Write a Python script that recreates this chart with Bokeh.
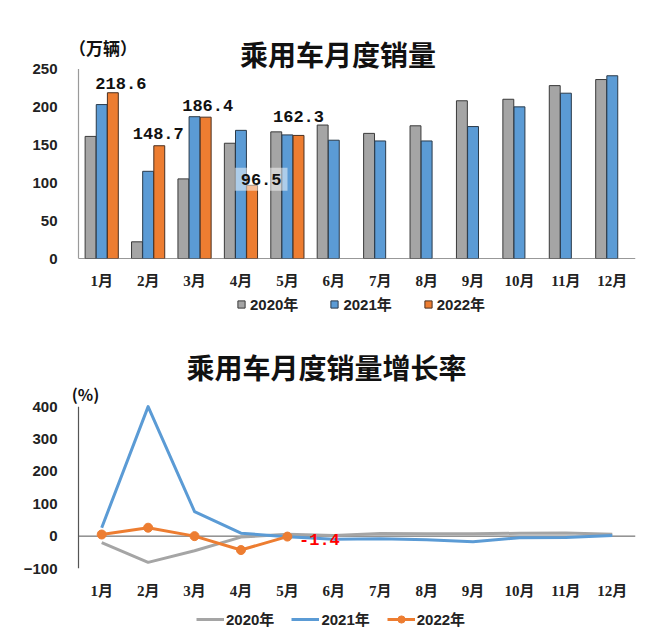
from bokeh.plotting import figure
from bokeh.models import Label, Legend, LegendItem, FixedTicker
from bokeh.transform import dodge
from bokeh.layouts import column
from bokeh.embed import file_html
from bokeh.resources import INLINE

# ---------------- data ----------------
months = ["1月", "2月", "3月", "4月", "5月", "6月", "7月", "8月", "9月", "10月", "11月", "12月"]
month_idx = list(range(1, 13))
series_names = ["2020年", "2021年", "2022年"]

sales_2020 = [161, 22, 105, 152, 167, 176, 165, 175, 208, 210, 228, 236]
sales_2021 = [203, 115, 187, 169, 163, 156, 155, 155, 174, 200, 218, 241]
sales_2022 = [218.6, 148.7, 186.4, 96.5, 162.3]
sales_labels_2022 = ["218.6", "148.7", "186.4", "96.5", "162.3"]

growth_2020 = [-20, -81, -45, -3, 6, 2, 8, 7, 7, 9, 10, 6]
growth_2021 = [26, 400, 76, 9, -2, -10, -8, -11, -17, -5, -4, 2]
growth_2022 = [5, 26, 0, -43, -1.4]
growth_label_may_2022 = "-1.4"

sales_ticks = [0, 50, 100, 150, 200, 250]
growth_ticks = [-100, 0, 100, 200, 300, 400]
sales_axis = (0, 250)
growth_axis = (-100, 400)

# ---------------- style ----------------
GRAY = "#A5A5A5"
BLUE = "#5B9BD5"
ORANGE = "#ED7D31"
CJK = "'Noto Sans CJK SC'"
SERIF_CJK = "'Liberation Serif', 'Noto Sans CJK SC'"
SANS_CJK = "'Liberation Sans', 'Noto Sans CJK SC'"
MONO = "'Liberation Mono'"
BAR_OFF = 0.24
BAR_W = 0.235
X0 = 0.5 - 9 / 46.4          # frame starts a little left of the first category
FIG_W = 650
NAN = [float("nan")]          # legend-only swatches draw nothing in the plot
# per-label pixel nudges (x, y) for the 2022 data labels
lbl_dx = [8, -1, 2, 9, 0]
lbl_dy = [9, 12, 12, 6, 19]


def style_axes(p, ticks):
    p.xgrid.visible = False
    p.ygrid.visible = False
    p.outline_line_color = None
    p.yaxis.ticker = FixedTicker(ticks=ticks)
    p.yaxis.axis_line_color = None
    p.yaxis.major_tick_line_color = None
    p.yaxis.minor_tick_line_color = None
    p.yaxis.major_tick_out = 0
    p.yaxis.major_tick_in = 0
    p.yaxis.major_label_standoff = 12
    p.yaxis.major_label_text_font = "'Liberation Sans'"
    p.yaxis.major_label_text_font_style = "bold"
    p.yaxis.major_label_text_font_size = "15px"
    p.yaxis.major_label_text_color = "#222222"
    p.xaxis.ticker = FixedTicker(ticks=month_idx)
    p.xaxis.major_label_overrides = {i: m for i, m in zip(month_idx, months)}
    p.xaxis.axis_line_color = None
    p.xaxis.major_tick_line_color = None
    p.xaxis.minor_tick_line_color = None
    p.xaxis.major_tick_out = 0
    p.xaxis.major_tick_in = 0
    p.xaxis.major_label_standoff = 14
    p.xaxis.major_label_text_font = SERIF_CJK
    p.xaxis.major_label_text_font_style = "bold"
    p.xaxis.major_label_text_font_size = "15px"
    p.xaxis.major_label_text_color = "#222222"


def legend_strip(height):
    f = figure(width=FIG_W, height=height, x_range=(0, 1), y_range=(0, 1),
               x_axis_type=None, y_axis_type=None, title=None,
               output_backend="svg", toolbar_location=None,
               min_border_left=69, min_border_right=15, min_border_top=0, min_border_bottom=0)
    f.xgrid.visible = False
    f.ygrid.visible = False
    f.outline_line_color = None
    return f


def make_legend(items, loc, glyph_w, spacing, standoff):
    return Legend(items=items, orientation="horizontal", location=loc,
                  glyph_width=glyph_w, glyph_height=18, label_standoff=standoff, spacing=spacing,
                  padding=0, margin=0, border_line_color=None, background_fill_alpha=0,
                  label_text_font=SANS_CJK, label_text_font_size="15px",
                  label_text_font_style="bold", label_height=18, label_text_color="#222222",
                  label_text_baseline="middle")


# ---------------- top: monthly sales ----------------
p1 = figure(width=FIG_W, height=291, x_range=(X0, 12.5), y_range=(0, 302),
            title=None, output_backend="svg", toolbar_location=None,
            min_border_left=69, min_border_right=15, min_border_top=29, min_border_bottom=30)
style_axes(p1, sales_ticks)

# axis lines drawn on the data scales
p1.segment(x0=[0.5], y0=[sales_axis[0]], x1=[0.5], y1=[sales_axis[1]], line_color="#9A9A9A", line_width=1.2)
p1.segment(x0=[0.5], y0=[0], x1=[12.5], y1=[0], line_color="#333333", line_width=1.2)

src20 = dict(m=month_idx, v=sales_2020)
src21 = dict(m=month_idx, v=sales_2021)
src22 = dict(m=month_idx[:5], v=sales_2022)
p1.vbar(x=dodge("m", -BAR_OFF, range=p1.x_range), top="v", width=BAR_W, source=src20,
        fill_color=GRAY, line_color="#3a3a3a", line_width=1)
p1.vbar(x=dodge("m", 0, range=p1.x_range), top="v", width=BAR_W, source=src21,
        fill_color=BLUE, line_color="#2a3a4a", line_width=1)
p1.vbar(x=dodge("m", BAR_OFF, range=p1.x_range), top="v", width=BAR_W, source=src22,
        fill_color=ORANGE, line_color="#4a3020", line_width=1)

for i, (v, t) in enumerate(zip(sales_2022, sales_labels_2022)):
    kw = {}
    if t == "96.5":
        kw = dict(background_fill_color="#FFFFFF", background_fill_alpha=0.5, padding=6)
    p1.add_layout(Label(x=month_idx[i] + BAR_OFF, y=v, x_offset=lbl_dx[i], y_offset=lbl_dy[i],
                        text=t, text_align="center", text_baseline="middle",
                        text_font=MONO, text_font_size="17px", text_font_style="bold",
                        text_color="#111111", **kw))

p1.add_layout(Label(x=6.09, y=269.5, text="乘用车月度销量",
                    text_align="center", text_baseline="middle", text_font=CJK,
                    text_font_size="28px", text_font_style="bold", text_color="#111111"))
p1.add_layout(Label(x=1.03, y=278.6, text="（万辆）",
                    text_align="center", text_baseline="middle", text_font=CJK,
                    text_font_size="17px", text_font_style="bold", text_color="#111111"))

# legend strip for the bars
lg1 = legend_strip(28)
k20 = lg1.scatter(x=NAN, y=NAN, marker="square", size=7, fill_color=GRAY, line_color="#3a3a3a")
k21 = lg1.scatter(x=NAN, y=NAN, marker="square", size=7, fill_color=BLUE, line_color="#2a3a4a")
k22 = lg1.scatter(x=NAN, y=NAN, marker="square", size=7, fill_color=ORANGE, line_color="#4a3020")
lg1.add_layout(make_legend([LegendItem(label=series_names[0], renderers=[k20]),
                            LegendItem(label=series_names[1], renderers=[k21]),
                            LegendItem(label=series_names[2], renderers=[k22])],
                           loc=(163, 5), glyph_w=18, spacing=27, standoff=-3))

# ---------------- bottom: growth rate ----------------
p2 = figure(width=FIG_W, height=282, x_range=(X0, 12.5), y_range=(-100, 592),
            title=None, output_backend="svg", toolbar_location=None,
            min_border_left=69, min_border_right=15, min_border_top=25, min_border_bottom=30)
style_axes(p2, growth_ticks)
p2.segment(x0=[0.5], y0=[growth_axis[0]], x1=[0.5], y1=[growth_axis[1]], line_color="#555555", line_width=1.2)
p2.segment(x0=[0.5], y0=[0], x1=[12.5], y1=[0], line_color="#555555", line_width=1)

p2.line(month_idx, growth_2020, line_color=GRAY, line_width=3, line_join="round")
p2.line(month_idx, growth_2021, line_color=BLUE, line_width=3, line_join="round")
p2.line(month_idx[:5], growth_2022, line_color=ORANGE, line_width=3, line_join="round")
p2.scatter(month_idx[:5], growth_2022, size=9, fill_color=ORANGE, line_color=ORANGE)

p2.add_layout(Label(x=month_idx[4], y=growth_2022[4], x_offset=32, y_offset=-3,
                    text=growth_label_may_2022, text_align="center", text_baseline="middle",
                    text_font=MONO, text_font_size="17px", text_font_style="bold",
                    text_color="#FF0000"))

p2.add_layout(Label(x=5.845, y=524, text="乘用车月度销量增长率",
                    text_align="center", text_baseline="middle", text_font=CJK,
                    text_font_size="28px", text_font_style="bold", text_color="#111111"))
p2.add_layout(Label(x=0.65, y=439, text="(%)",
                    text_align="center", text_baseline="middle", text_font=CJK,
                    text_font_size="16px", text_font_style="bold", text_color="#111111"))

# legend strip for the lines
lg2 = legend_strip(34)
m20 = lg2.line(x=NAN, y=NAN, line_color=GRAY, line_width=3)
m21 = lg2.line(x=NAN, y=NAN, line_color=BLUE, line_width=3)
m22 = lg2.line(x=NAN, y=NAN, line_color=ORANGE, line_width=3)
d22 = lg2.scatter(x=NAN, y=NAN, size=9, fill_color=ORANGE, line_color=ORANGE)
lg2.add_layout(make_legend([LegendItem(label=series_names[0], renderers=[m20]),
                            LegendItem(label=series_names[1], renderers=[m21]),
                            LegendItem(label=series_names[2], renderers=[m22, d22])],
                           loc=(127, 6), glyph_w=28, spacing=17, standoff=2))

layout = column(p1, lg1, p2, lg2, spacing=0)
open("out.html", "w").write(file_html(layout, INLINE))
